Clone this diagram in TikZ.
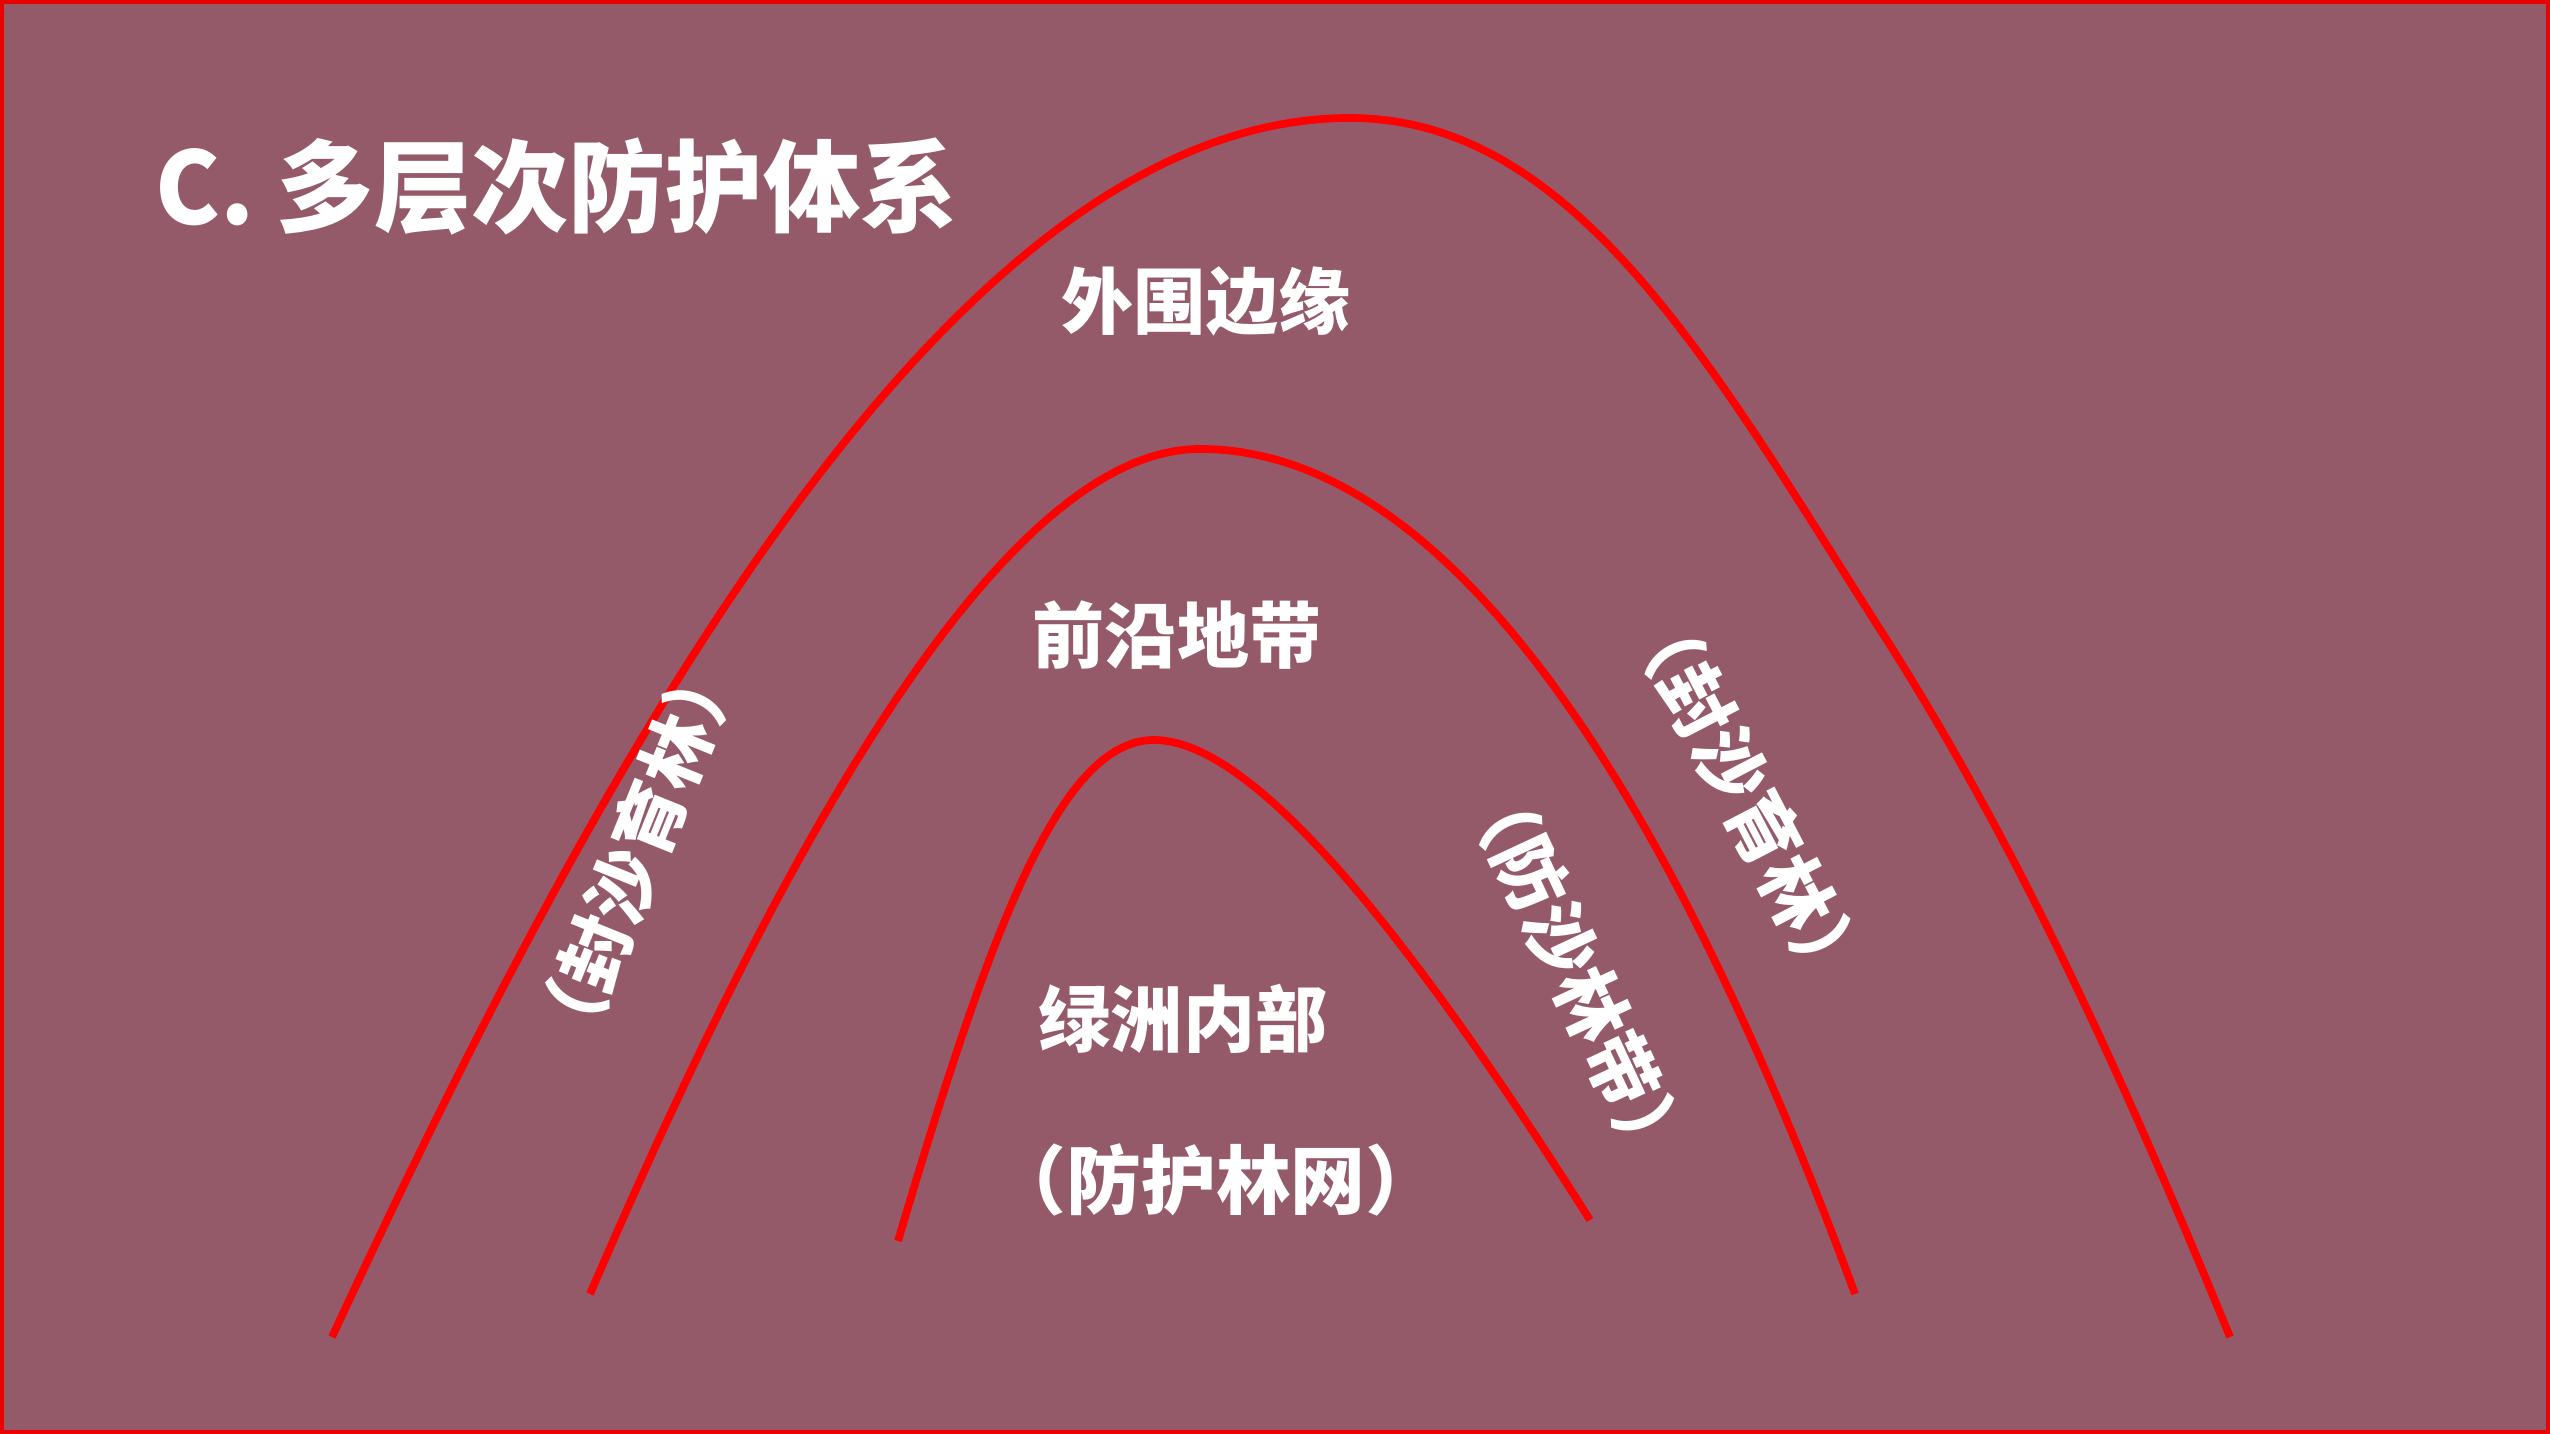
\documentclass[tikz,border=0pt]{standalone}
\usepackage{fontspec}
\setmainfont{Noto Sans CJK SC}
\definecolor{bgc}{RGB}{149,90,105}
\definecolor{linered}{RGB}{255,0,0}
\definecolor{framered}{RGB}{235,0,0}
\begin{document}
\begin{tikzpicture}[x=0.01cm,y=-0.01cm,
  arcline/.style={draw=linered,line width=2.2pt,line cap=butt},
  lbl/.style={text=white,inner sep=0pt,font=\fontsize{20.5pt}{24pt}\selectfont\bfseries},
  rlbl/.style={text=white,inner sep=0pt,font=\fontsize{20.5pt}{24pt}\selectfont\bfseries}]
\useasboundingbox (0,0) rectangle (2550,1434);
\fill[bgc] (0,0) rectangle (2550,1434);
\draw[framered,line width=1.2pt] (2,2) rectangle (2548,1432);
% outer curve
\draw[arcline] (332,1337) .. controls (600,760) and (950,118) .. (1350,118)
  .. controls (1580,118) and (1720,380) .. (1890,645)
  .. controls (2000,820) and (2100,1020) .. (2230,1337);
% middle curve
\draw[arcline] (590,1294) .. controls (760,900) and (990,449) .. (1200,449)
  .. controls (1460,449) and (1680,820) .. (1855,1294);
% inner curve
\draw[arcline] (898,1241) .. controls (990,930) and (1060,740) .. (1154,740)
  .. controls (1250,740) and (1400,920) .. (1590,1220);
% title
\node[text=white,inner sep=0pt,anchor=west,font=\fontsize{28.5pt}{32pt}\selectfont\bfseries] (title) at (155,187) {\scalebox{0.97}[1]{C. 多层次防护体系}};
% labels
\node[lbl] (outer) at (1206,301) {外围边缘};
\node[lbl] (front) at (1177,635) {前沿地带};
\node[lbl] (oasis) at (1183,1019) {绿洲内部};
\node[lbl,font=\fontsize{21.3pt}{24pt}\selectfont\bfseries] (net) at (1216,1180) {（防护林网）};
\node[rlbl,rotate=68] (leftsand) at (636,852) {（封沙育林）};
\node[rlbl,rotate=-62.5] (rightsand) at (1748,797) {（封沙育林）};
\node[rlbl,rotate=-65] (belt) at (1577,972) {（防沙林带）};
\end{tikzpicture}
\end{document}
